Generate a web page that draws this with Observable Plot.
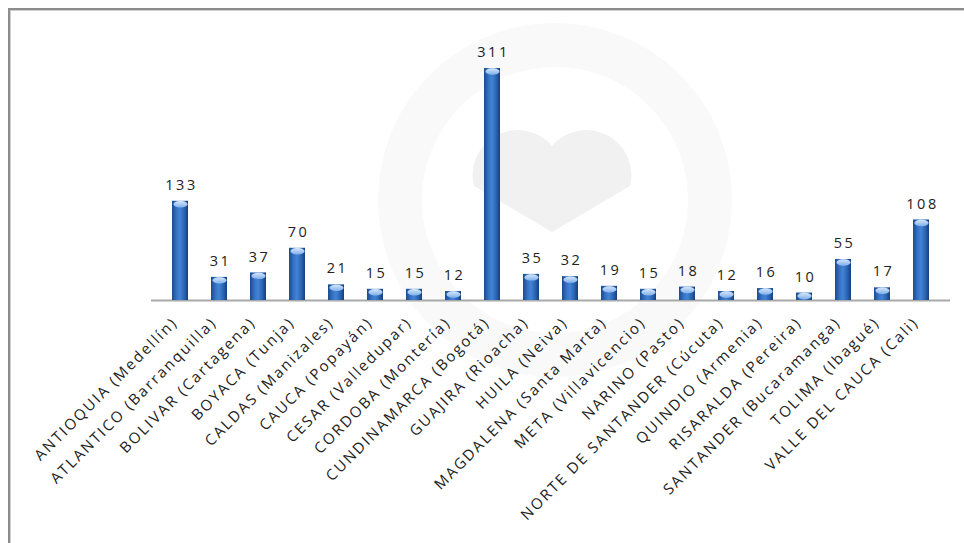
<!DOCTYPE html>
<html><head><meta charset="utf-8">
<script src="https://cdn.jsdelivr.net/npm/d3@7"></script>
<script src="https://cdn.jsdelivr.net/npm/@observablehq/plot@0.6"></script>
<style>
html,body{margin:0;padding:0;background:#fff;}
#chart{position:relative;width:964px;height:543px;overflow:hidden;background:#fff;}
#frame{position:absolute;left:8px;top:8px;width:1000px;height:600px;border-top:2px solid #8c8c8c;border-left:2px solid #8c8c8c;pointer-events:none;box-shadow:inset 1px 1px 0 #d0d0d0;}
</style></head><body>
<div id="chart"><div id="frame"></div></div>
<script>
const departments = [
  "ANTIOQUIA (Medellín)", "ATLANTICO (Barranquilla)", "BOLIVAR (Cartagena)", "BOYACA (Tunja)",
  "CALDAS (Manizales)", "CAUCA (Popayán)", "CESAR (Valledupar)", "CORDOBA (Montería)",
  "CUNDINAMARCA (Bogotá)", "GUAJIRA (Rioacha)", "HUILA (Neiva)", "MAGDALENA (Santa Marta)",
  "META (Villavicencio)", "NARINO (Pasto)", "NORTE DE SANTANDER (Cúcuta)", "QUINDIO (Armenia)",
  "RISARALDA (Pereira)", "SANTANDER (Bucaramanga)", "TOLIMA (Ibagué)", "VALLE DEL CAUCA (Cali)"
];
const counts = [133, 31, 37, 70, 21, 15, 15, 12, 311, 35, 32, 19, 15, 18, 12, 16, 10, 55, 17, 108];

const data = departments.map((d, i) => ({dept: d, n: counts[i]}));

// elliptical cap symbol for the cylinder tops
const capSymbol = {
  draw(ctx) {
    const rx = 7, ry = 3.2, k = 0.5523;
    ctx.moveTo(-rx, 0);
    ctx.bezierCurveTo(-rx, -ry * k, -rx * k, -ry, 0, -ry);
    ctx.bezierCurveTo(rx * k, -ry, rx, -ry * k, rx, 0);
    ctx.bezierCurveTo(rx, ry * k, rx * k, ry, 0, ry);
    ctx.bezierCurveTo(-rx * k, ry, -rx, ry * k, -rx, 0);
    ctx.closePath();
  }
};

const font = "'Open Sans', 'DejaVu Sans', sans-serif";

const svg = Plot.plot({
  width: 964,
  height: 543,
  marginTop: 68,
  marginBottom: 243,
  marginLeft: 151,
  marginRight: 14,
  style: {fontFamily: font, background: "transparent", overflow: "visible"},
  x: {domain: departments, paddingInner: 0.6, paddingOuter: 0.3, axis: null},
  y: {domain: [0, 311], axis: null},
  marks: [
    Plot.ruleY([0], {stroke: "#a9a9a9", strokeWidth: 2}),
    Plot.barY(data, {x: "dept", y: "n", fill: "url(#barGrad)"}),
    Plot.dot(data, {x: "dept", y: "n", symbol: capSymbol, r: 4, fill: "url(#capGrad)", stroke: "none", dy: 3}),
    Plot.text(data, {x: "dept", y: "n", text: d => String(d.n), dy: -16, dx: 1, fontSize: 14.5, fill: "#222"}),
    Plot.text(data, {x: "dept", frameAnchor: "bottom", text: "dept", rotate: -45, textAnchor: "end", dx: -2, dy: 23, fontSize: 15, fill: "#222"})
  ]
});

// gradients and faint watermark
const s = d3.select(svg);
const defs = s.insert("defs", ":first-child");
const g1 = defs.append("linearGradient").attr("id", "barGrad").attr("x1", "0").attr("x2", "1").attr("y1", "0").attr("y2", "0");
[["0%", "#1b4a8c"], ["30%", "#3674c6"], ["50%", "#4383d4"], ["75%", "#2b66b6"], ["100%", "#163f7a"]]
  .forEach(([o, c]) => g1.append("stop").attr("offset", o).attr("stop-color", c));
const g2 = defs.append("linearGradient").attr("id", "capGrad").attr("x1", "0").attr("x2", "0").attr("y1", "0").attr("y2", "1");
[["0%", "#d6e6fa"], ["100%", "#7fb0ec"]]
  .forEach(([o, c]) => g2.append("stop").attr("offset", o).attr("stop-color", c));

const wm = s.insert("g", "defs + *").attr("aria-hidden", "true");
wm.append("circle").attr("cx", 555).attr("cy", 200).attr("r", 155)
  .attr("fill", "none").attr("stroke", "#f9f9f9").attr("stroke-width", 44);
wm.append("path")
  .attr("d", "M552,232 L474,186 A45,45 0 0,1 552,146 A45,45 0 0,1 630,186 Z")
  .attr("fill", "#f1f1f1");

// letter spacing to mimic the stretched original
const textGroups = s.selectAll("g[aria-label='text']").nodes();
if (textGroups[0]) textGroups[0].setAttribute("letter-spacing", "2.5");
if (textGroups[1]) textGroups[1].setAttribute("letter-spacing", "2.05");

document.getElementById("chart").appendChild(svg);
svg.style.position = "absolute";
svg.style.left = "0";
svg.style.top = "0";
</script>
</body></html>
